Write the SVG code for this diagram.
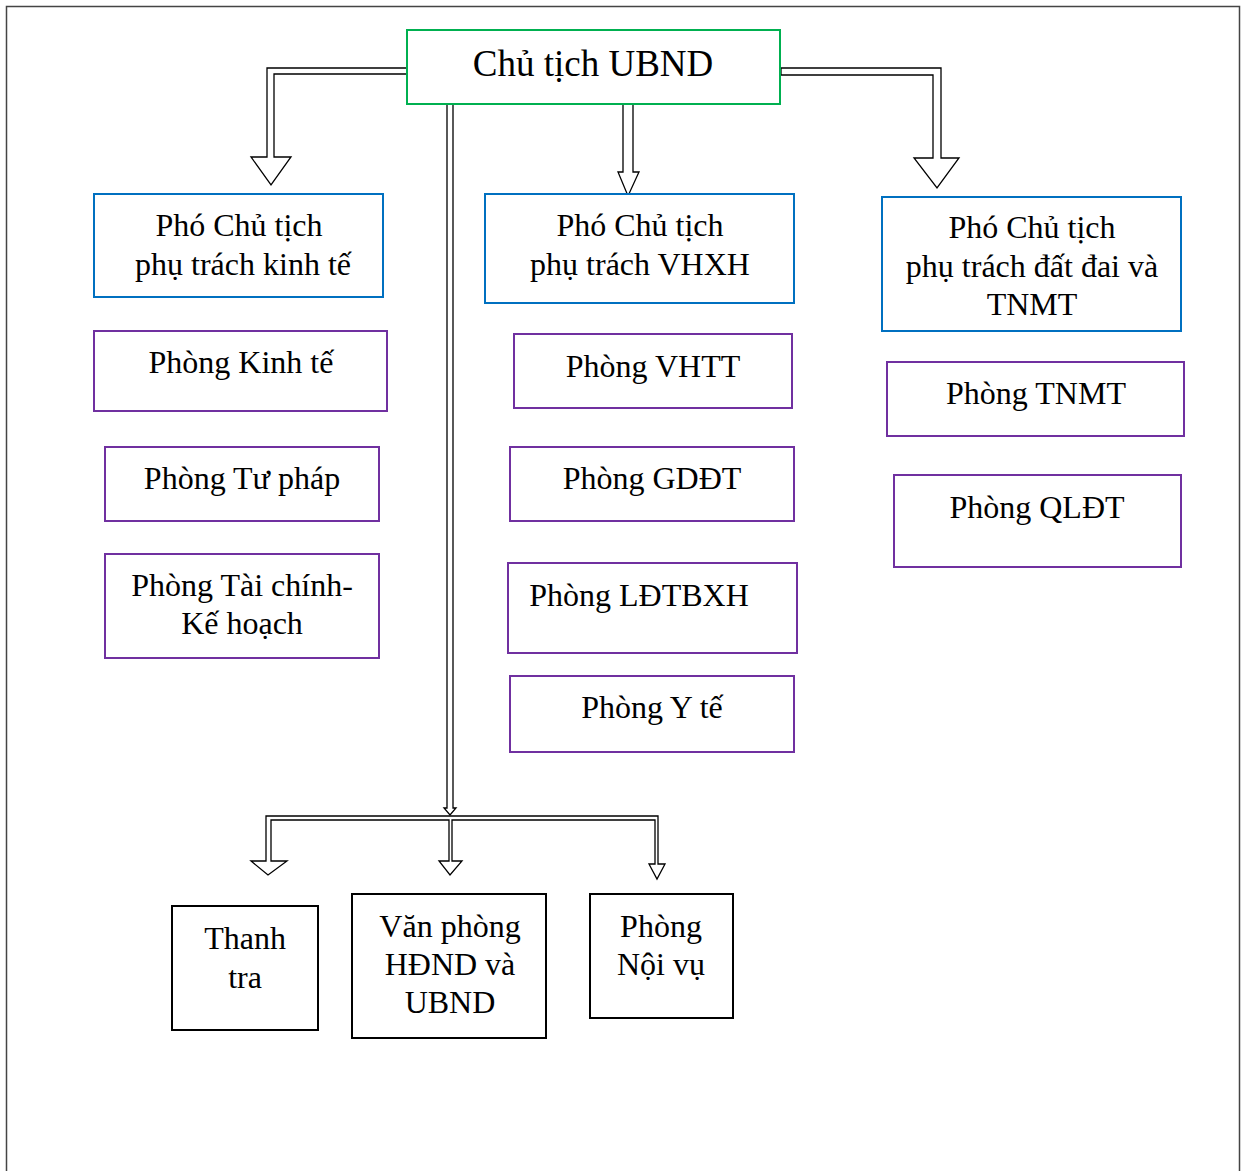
<svg xmlns="http://www.w3.org/2000/svg" width="1243" height="1171" viewBox="0 0 1243 1171">
<style>
text{font-family:"Liberation Serif","Times New Roman",serif;font-size:32px;fill:#000;text-anchor:middle}
.t{font-size:37px}
.g{fill:#fff;stroke:#00B050;stroke-width:2}
.b{fill:#fff;stroke:#0070C0;stroke-width:2}
.p{fill:#fff;stroke:#7030A0;stroke-width:2}
.k{fill:#fff;stroke:#000;stroke-width:2}
.a{fill:#fff;stroke:#000;stroke-width:1.3;stroke-linejoin:miter}
</style>
<rect x="0" y="0" width="1243" height="1171" fill="#fff"/>
<path d="M6.5,1175 V6.5 H1239.5 V1175" fill="none" stroke="#444" stroke-width="1.5"/>
<g id="connectors">
<polygon class="a" points="408,68 267,68 267,157 251,157 271,185 291,157 274,157 274,74 408,74"/>
<polygon class="a" points="623,104 633,104 633,172 639,172 628,196 618,172 623,172"/>
<polygon class="a" points="781,68 941,68 941,158 959,158 937,188 914,158 933,158 933,75 781,75"/>
<polygon class="a" points="447,102 453,102 453,808 456,808 450,815 444,808 447,808"/>
<polygon class="a" points="266,816 658,816 658,864 665,864 657,879 649,864 655,864 655,820 452,820 452,861 462,861 450,875 439,861 449,861 449,820 271,820 271,861 287,861 268,875 251,861 266,861"/>
</g>
<g id="chu-tich"><rect class="g" x="407" y="30" width="373" height="74"/><text class="t" x="593" y="76">Chủ tịch UBND</text></g>
<g id="pct-kinh-te"><rect class="b" x="94" y="194" width="289" height="103"/><text x="239" y="236">Phó Chủ tịch</text><text x="243" y="275">phụ trách kinh tế</text></g>
<g id="phong-kinh-te"><rect class="p" x="94" y="331" width="293" height="80"/><text x="241" y="373">Phòng Kinh tế</text></g>
<g id="phong-tu-phap"><rect class="p" x="105" y="447" width="274" height="74"/><text x="242" y="489">Phòng Tư pháp</text></g>
<g id="phong-tckh"><rect class="p" x="105" y="554" width="274" height="104"/><text x="242" y="596">Phòng Tài chính-</text><text x="242" y="634">Kế hoạch</text></g>
<g id="pct-vhxh"><rect class="b" x="485" y="194" width="309" height="109"/><text x="640" y="236">Phó Chủ tịch</text><text x="640" y="275">phụ trách VHXH</text></g>
<g id="phong-vhtt"><rect class="p" x="514" y="334" width="278" height="74"/><text x="653" y="377">Phòng VHTT</text></g>
<g id="phong-gddt"><rect class="p" x="510" y="447" width="284" height="74"/><text x="652" y="489">Phòng GDĐT</text></g>
<g id="phong-ldtbxh"><rect class="p" x="508" y="563" width="289" height="90"/><text x="639" y="606">Phòng LĐTBXH</text></g>
<g id="phong-y-te"><rect class="p" x="510" y="676" width="284" height="76"/><text x="652" y="718">Phòng Y tế</text></g>
<g id="pct-tnmt"><rect class="b" x="882" y="197" width="299" height="134"/><text x="1032" y="238">Phó Chủ tịch</text><text x="1032" y="277">phụ trách đất đai và</text><text x="1032" y="315">TNMT</text></g>
<g id="phong-tnmt"><rect class="p" x="887" y="362" width="297" height="74"/><text x="1036" y="404">Phòng TNMT</text></g>
<g id="phong-qldt"><rect class="p" x="894" y="475" width="287" height="92"/><text x="1037" y="518">Phòng QLĐT</text></g>
<g id="thanh-tra"><rect class="k" x="172" y="906" width="146" height="124"/><text x="245" y="949">Thanh</text><text x="245" y="988">tra</text></g>
<g id="van-phong"><rect class="k" x="352" y="894" width="194" height="144"/><text x="450" y="937">Văn phòng</text><text x="450" y="975">HĐND và</text><text x="450" y="1013">UBND</text></g>
<g id="phong-noi-vu"><rect class="k" x="590" y="894" width="143" height="124"/><text x="661" y="937">Phòng</text><text x="661" y="975">Nội vụ</text></g>
</svg>
